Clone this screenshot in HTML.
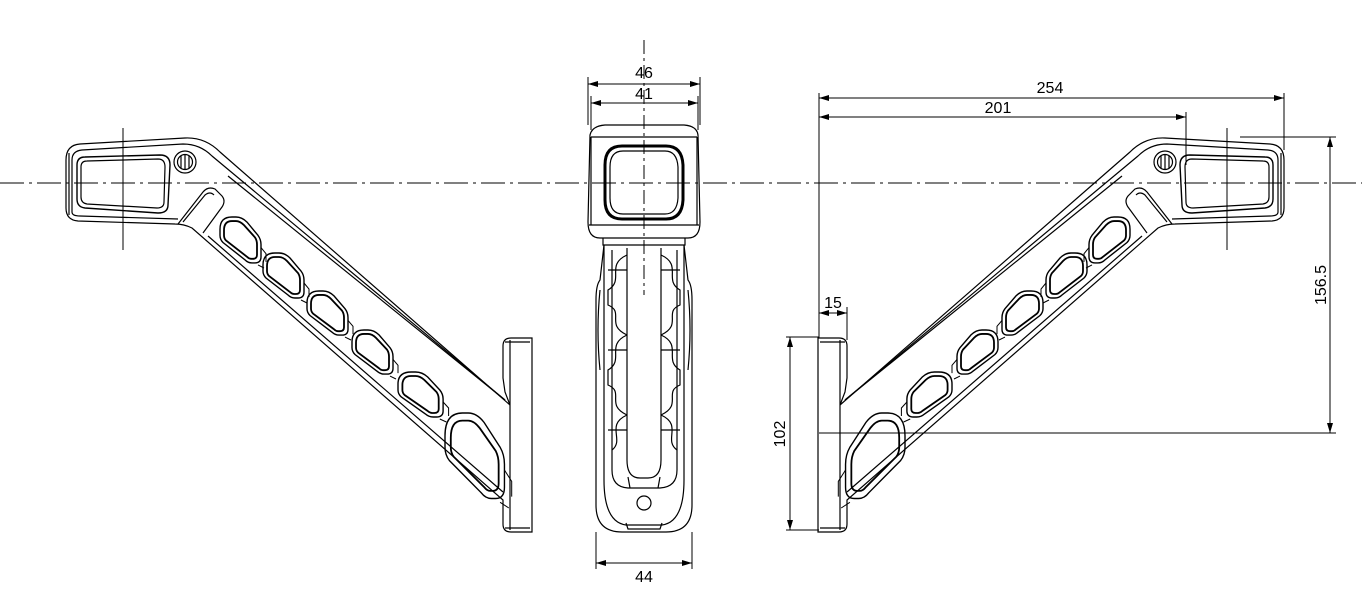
<!DOCTYPE html>
<html><head><meta charset="utf-8"><style>
html,body{margin:0;padding:0;background:#fff;}
svg{display:block}
text{font-family:"Liberation Sans",sans-serif;font-size:16px;fill:#000}
</style></head><body>
<svg width="1362" height="612" viewBox="0 0 1362 612" xmlns="http://www.w3.org/2000/svg">
<defs>
<marker id="ar" viewBox="0 0 10 6" refX="10" refY="3" markerWidth="10" markerHeight="6" orient="auto-start-reverse" markerUnits="userSpaceOnUse">
<path d="M0,0 L10,3 L0,6 Z" fill="#000"/></marker>
<g id="pk" fill="none" stroke="#000">
<path vector-effect="non-scaling-stroke" d="M 0,12 Q 0,0 12,0 L 16,0 Q 22,0 27,5 L 38,18 Q 41,22 41,27 L 41,39 Q 41,45 35,45 L 32,45 Q 28,45 25,42 L 3,25 Q 0,22 0,18 Z" stroke-width="1.4"/>
<path vector-effect="non-scaling-stroke" d="M 4,13 Q 4,4 12,4 L 16,4 Q 20,4 24,8 L 35,20 Q 37,23 37,27 L 37,37 Q 37,41 33,41 L 31,41 Q 29,41 27,39 L 6,23 Q 4,21 4,18 Z" stroke-width="1.8"/>
<path vector-effect="non-scaling-stroke" d="M 41,30 L 46,36 L 46,44 M 38,47 L 44,50" stroke-width="1"/>
</g>
<g id="side" fill="none" stroke="#000" stroke-width="1.2">
<path d="M 66,160 Q 66,145 80,144 L 185,138 Q 205,137 220,152 L 510,405 L 505,392 L 503,378 L 503,346 Q 503,338 511,338 L 532,338 L 532,532 L 511,532 Q 503,532 503,524 L 503,500 L 192,228 Q 184,224 175,224 L 78,221 Q 66,220 66,208 Z"/>
<path d="M 72,160 Q 72,151 82,150 L 183,144 Q 200,144 212,156 L 505,400"/>
<path d="M 228,176 L 505,400"/>
<path d="M 69,153 L 69,215 M 72,160 L 72,212 Q 72,216 80,216 L 178,219"/>
<path d="M 85,157 L 160,155 Q 170,155 170,165 L 168,205 Q 168,213 158,213 L 85,208 Q 77,207 77,199 L 77,165 Q 77,157 85,157 Z" stroke-width="1.4"/>
<path d="M 87,161 L 158,159 Q 165,159 165,167 L 164,202 Q 164,208 157,208 L 87,204 Q 81,203 81,197 L 81,167 Q 81,161 87,161 Z"/>
<circle cx="185" cy="162" r="11"/><circle cx="185" cy="162" r="7.5"/>
<path d="M 181,156 L 181,168 M 185,154 L 185,170 M 189,156 L 189,168"/>
<path d="M 178,224 L 203,192 Q 208,186 215,189 L 222,196 Q 226,201 222,207 L 203,233"/>
<path d="M 183,222 L 205,195 Q 210,191 214,195"/>
<path d="M 510,340 L 510,530 M 505,342 L 530,342 M 505,528 L 530,528"/>
<path d="M 208,236 L 503,492"/>
<use href="#pk" transform="translate(220,217) scale(1,1.02)"/>
<use href="#pk" transform="translate(263,253) scale(1,1)"/>
<use href="#pk" transform="translate(307,291) scale(1,0.98)"/>
<use href="#pk" transform="translate(352,330) scale(1,0.98)"/>
<use href="#pk" transform="translate(398,372) scale(1.1,1)"/>
<use href="#pk" transform="translate(445,413) scale(1.45,1.9)"/>
</g>
</defs>
<line x1="0" y1="183" x2="1362" y2="183" stroke="#000" stroke-width="1" stroke-dasharray="24,5,3,5"/>
<use href="#side"/>
<line x1="123" y1="128" x2="123" y2="250" stroke="#000" stroke-width="1"/>
<use href="#side" transform="translate(1350,0) scale(-1,1)"/>
<line x1="1227" y1="128" x2="1227" y2="250" stroke="#000" stroke-width="1"/>

<g fill="none" stroke="#000" stroke-width="1.2">
<line x1="644" y1="40" x2="644" y2="295" stroke-width="1" stroke-dasharray="14,4,3,4"/>
<path d="M 590,135 Q 592,126 605,125 L 684,125 Q 697,126 698,135 L 700,222 Q 700,238 688,238 L 600,238 Q 588,238 588,222 Z"/>
<path d="M 591,137 L 697,137 M 589,225 L 699,225 M 591,137 L 591,225 M 697,137 L 697,225"/>
<path d="M 622,146 L 666,146 Q 682,146 683,165 L 683,200 Q 682,219 666,219 L 622,219 Q 605,219 605,200 L 605,165 Q 605,146 622,146 Z" stroke-width="3"/>
<path d="M 623,151 L 665,151 Q 677,151 678,167 L 678,198 Q 677,214 665,214 L 623,214 Q 610,214 610,198 L 610,167 Q 610,151 623,151 Z"/>
<path d="M 603,238 L 603,245 L 685,245 L 685,238 M 610,245 L 678,245"/>
<path d="M 604,245 L 600,280 Q 596,285 596,300 L 596,505 Q 596,532 622,532 L 666,532 Q 692,532 692,505 L 692,300 Q 692,285 688,280 L 684,245"/>
<path d="M 604,245 L 604,480 Q 604,522 626,525 L 662,525 Q 684,522 684,480 L 684,245"/>
<path d="M 626,523 L 628,529 L 660,529 L 662,523"/>
<path d="M 612,250 L 612,470 Q 612,487 628,488 L 660,488 Q 677,487 677,470 L 677,250"/>
<path d="M 627,248 L 627,460 Q 627,478 640,478 L 648,478 Q 661,478 661,460 L 661,248"/>
<path d="M 628,477 L 630,488 M 660,477 L 658,488"/>
<path d="M 627,255 C 605,265 625,280 608,290 L 608,305 C 625,312 605,325 627,335 M 627,335 C 605,345 625,360 608,370 L 608,385 C 625,392 605,405 627,415 M 627,415 C 605,425 625,440 612,450"/>
<path d="M 661,255 C 683,265 663,280 680,290 L 680,305 C 663,312 683,325 661,335 M 661,335 C 683,345 663,360 680,370 L 680,385 C 663,392 683,405 661,415 M 661,415 C 683,425 663,440 677,450"/>
<path d="M 608,270 L 627,270 M 608,350 L 627,350 M 608,430 L 627,430 M 661,270 L 680,270 M 661,350 L 680,350 M 661,430 L 680,430"/>
<path d="M 600,290 Q 596,330 600,370 M 688,290 Q 692,330 688,370"/>
<circle cx="644" cy="503" r="7"/>
</g>

<g fill="none" stroke="#000" stroke-width="1">
<path d="M 588,77 L 588,125 M 700,77 L 700,125 M 591,96 L 591,130 M 698,96 L 698,130"/>
<line x1="588" y1="84" x2="700" y2="84" marker-start="url(#ar)" marker-end="url(#ar)"/>
<line x1="591" y1="103" x2="698" y2="103" marker-start="url(#ar)" marker-end="url(#ar)"/>
<path d="M 596,532 L 596,569 M 692,532 L 692,569"/>
<line x1="596" y1="563" x2="692" y2="563" marker-start="url(#ar)" marker-end="url(#ar)"/>
<path d="M 819,93 L 819,338 M 1284,93 L 1284,150 M 1186,112 L 1186,165"/>
<line x1="819" y1="98" x2="1284" y2="98" marker-start="url(#ar)" marker-end="url(#ar)"/>
<line x1="819" y1="117" x2="1186" y2="117" marker-start="url(#ar)" marker-end="url(#ar)"/>
<path d="M 1240,137 L 1336,137 M 819,433 L 1336,433"/>
<line x1="1330" y1="137" x2="1330" y2="433" marker-start="url(#ar)" marker-end="url(#ar)"/>
<path d="M 847,307 L 847,340"/>
<line x1="819" y1="313" x2="847" y2="313" marker-start="url(#ar)" marker-end="url(#ar)"/>
<path d="M 786,337 L 819,337 M 786,530 L 819,530"/>
<line x1="790" y1="337" x2="790" y2="530" marker-start="url(#ar)" marker-end="url(#ar)"/>
</g>
<g text-anchor="middle">
<text x="644" y="78">46</text>
<text x="644" y="99">41</text>
<text x="644" y="582">44</text>
<text x="1050" y="93">254</text>
<text x="998" y="113">201</text>
<text x="833" y="308">15</text>
<text transform="translate(1326,285) rotate(-90)">156.5</text>
<text transform="translate(785,434) rotate(-90)">102</text>
</g>
</svg>
</body></html>
